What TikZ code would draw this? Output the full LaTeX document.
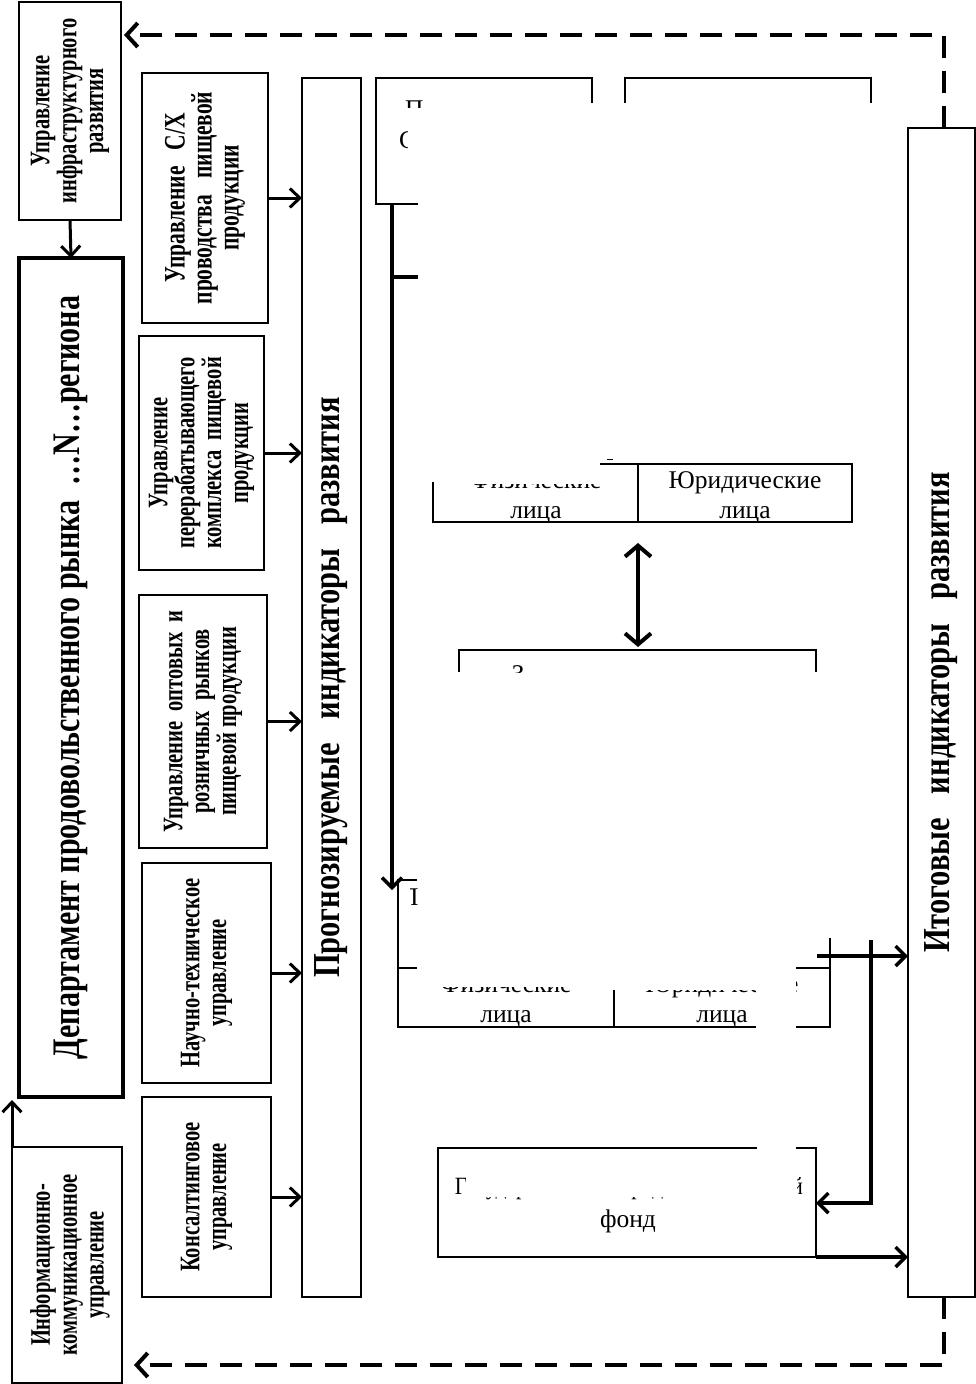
\documentclass[tikz,border=0pt]{standalone}
\usepackage{fontspec}
\setmainfont{Liberation Serif}
\usetikzlibrary{arrows.meta}
\begin{document}
\begin{tikzpicture}[x=1pt,y=-1pt,
  box/.style={draw, line width=1.2pt, inner sep=0pt, outer sep=0pt, anchor=north west},
  ghost/.style={inner sep=0pt, outer sep=0pt, anchor=north west},
  rtext/.style={rotate=90, yscale=1.38, align=center, inner sep=0pt, font=\bfseries\fontsize{20.5}{19.5}\selectfont},
  bigtext/.style={rotate=90, yscale=1.25, inner sep=0pt, font=\bfseries\fontsize{30.5}{30}\selectfont},
  tx/.style={inner sep=0pt, font=\fontsize{25.5}{25.5}\selectfont},
  mask/.style={fill=white, draw=none},
  arr/.style={line width=3pt, -{Straight Barb[length=10pt, width=19pt]}},
  thickarr/.style={line width=3.5pt, -{Straight Barb[length=10pt, width=20pt]}},
  dashline/.style={line width=4pt, dash pattern=on 22pt off 13pt, -{Straight Barb[length=11pt, width=24pt]}},
  thin/.style={line width=1.2pt}
]
\useasboundingbox (0,0) rectangle (976,1384);

% ---------- middle: partly covered texts (drawn first, then masked) ----------
\node[tx, anchor=base west] (fa1) at (405,117) {П};
\node[tx, anchor=base west] (fa2) at (399,148) {С};
\node[tx, anchor=base] (u1) at (536,488) {Физические};
\node[tx, anchor=base] (fc) at (518,682) {З};
\node[tx, anchor=base west] (fl0) at (400,905) {П};
\node[tx, anchor=base] (l1) at (506,992) {Физические};
\node[tx, anchor=base] (l3) at (722,992) {Юридические};
\node[tx, anchor=base] (f1) at (629,1194) {\resizebox{348pt}{17pt}{Государственный продовольственный}};

\fill[mask] (400,108) rectangle (426,126);
\fill[mask] (408,126) rectangle (426,156);
\fill[mask] (440,466) rectangle (632,483.5);
\fill[mask] (505,673) rectangle (534,692);
\fill[mask] (396,882) rectangle (409.5,910);
\fill[mask] (417,968) rectangle (612,987);
\fill[mask] (616,968) rectangle (756,990);
\fill[mask] (756,968) rectangle (795.5,1000);
\fill[mask] (466,1168) rectangle (797,1196.5);

% ---------- left column ----------
\node[box, minimum width=102pt, minimum height=218pt] (infra) at (19,2) {};
\node[rtext] (infratx) at (infra.center) {Управление\\инфраструктурного\\развития};

\node[box, line width=4pt, minimum width=104pt, minimum height=839pt] (dept) at (19,258) {};
\node[rotate=90, yscale=1.3, inner sep=0pt, font=\bfseries\fontsize{30}{30}\selectfont] (depttx) at (dept.center) {Департамент продовольственного рынка \ …N…региона};

\node[box, minimum width=110pt, minimum height=236pt] (info) at (12,1147) {};
\node[rtext] (infotx) at ([xshift=3pt]info.center) {Информационно-\\коммуникационное\\управление};

\draw[arr] (infra.south) -- (dept.north);
\draw[arr, shorten >=3pt] (info.north west) -- (info.north west |- dept.south);

% ---------- second column ----------
\node[box, minimum width=126pt, minimum height=250pt] (c1) at (142,73) {};
\node[rtext, font=\bfseries\fontsize{21.5}{19.5}\selectfont] (c1tx) at (c1.center) {Управление \ \ С/Х\\проводства \ \ пищевой\\продукции};
\node[box, minimum width=125pt, minimum height=234pt] (c2) at (139,336) {};
\node[rtext] (c2tx) at (c2.center) {Управление\\перерабатывающего\\комплекса \ пищевой\\продукции};
\node[box, minimum width=128pt, minimum height=253pt] (c3) at (139,595) {};
\node[rtext] (c3tx) at (c3.center) {Управление \ оптовых \ и\\розничных \ рынков\\пищевой продукции};
\node[box, minimum width=129pt, minimum height=220pt] (c4) at (142,863) {};
\node[rtext] (c4tx) at (c4.center) {Научно-техническое\\управление};
\node[box, minimum width=129pt, minimum height=200pt] (c5) at (142,1097) {};
\node[rtext] (c5tx) at (c5.center) {Консалтинговое\\управление};

\node[box, minimum width=59pt, minimum height=1219pt] (prog) at (302,78) {};
\node[bigtext] (progtx) at (prog.center) {Прогнозируемые\hspace{24pt}индикаторы\hspace{24pt}развития};

\foreach \c in {c1,c2,c3,c4,c5}
  \draw[arr] (\c.east) -- (\c.east -| prog.west);

% ---------- right column ----------
\node[box, minimum width=67pt, minimum height=1169pt] (itog) at (908,128) {};
\node[bigtext] (itogtx) at (itog.center) {Итоговые\hspace{24pt}индикаторы\hspace{24pt}развития};

% ---------- middle: visible lines ----------
% box A (top left)
\draw[thin] (418,204) -- (376,204) -- (376,78) -- (592,78) -- (592,103);
% box B (top right)
\draw[thin] (625,103) -- (625,78) -- (871,78) -- (871,103);

% thick vertical line with stub
\coordinate (vtop) at (392,204);
\coordinate (vbot) at (392,890);
\coordinate (stub) at (418,277);
\draw[thickarr] (vtop) -- (vbot);
\draw[line width=3.5pt] (vtop |- stub) -- (stub);

% upper table
\draw[thin] (600,464) -- (852,464) -- (852,522) -- (433,522) -- (433,482);
\draw[thin] (638,464) -- (638,522);
\draw[line width=1pt] (607,459) -- (613,459);
\node[tx, anchor=base] (u2) at (536,518) {лица};
\node[tx, anchor=base] (u3) at (745,488) {Юридические};
\node[tx, anchor=base] (u4) at (745,518) {лица};

% double arrow
\coordinate (da1) at (638,543);
\coordinate (da2) at (638,647);
\draw[line width=4pt, {Straight Barb[length=11pt, width=26pt]}-{Straight Barb[length=11pt, width=26pt]}] (da1) -- (da2);

% box C
\draw[thin] (459,672) -- (459,650) -- (816,650) -- (816,672);

% lower table
\draw[thin] (417,880) -- (398,880) -- (398,1027) -- (756,1027);
\draw[thin] (796,1027) -- (830,1027) -- (830,938);
\draw[thin] (398,968) -- (417,968);
\draw[thin] (796,968) -- (830,968);
\draw[thin] (614,990) -- (614,1027);
\node[tx, anchor=base] (l2) at (506,1022) {лица};
\node[tx, anchor=base] (l4) at (722,1022) {лица};

% fond box
\node[ghost, minimum width=378pt, minimum height=109pt] (fond) at (438,1148) {};
\draw[thin] (757,1148) -- (fond.north west) -- (fond.south west) -- (fond.south east) -- (fond.north east) -- (796,1148);
\node[tx, anchor=base] (f2) at (628,1227) {фонд};

% right-side connectors
\coordinate (lt) at (817,956);
\coordinate (rtop) at (871,940);
\coordinate (rcorner) at (871,1203);
\draw[thickarr] (lt) -- (lt -| itog.west);
\draw[thickarr] (rtop) -- (rcorner) -- (rcorner -| fond.east);
\draw[thickarr] (fond.south east) -- (fond.south east -| itog.west);

% dashed feedback lines
\coordinate (dtop) at (944,35);
\coordinate (dbot) at (944,1365);
\draw[dashline, shorten >=3pt] (itog.north -| dtop) -- (dtop) -- (dtop -| infra.east);
\draw[dashline, shorten >=12pt] (itog.south -| dbot) -- (dbot) -- (dbot -| info.east);
\end{tikzpicture}
\end{document}
